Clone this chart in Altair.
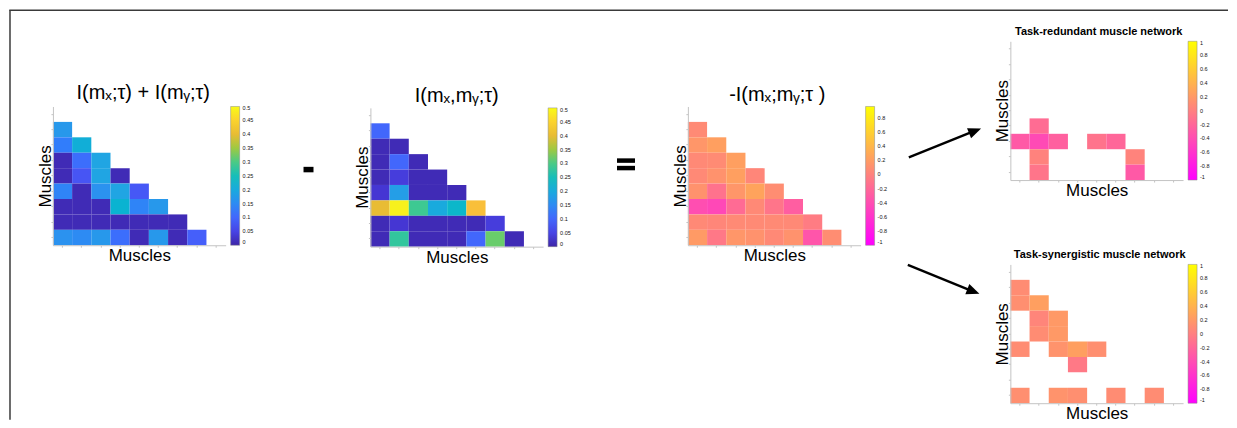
import altair as alt
import pandas as pd

FONT = "Liberation Sans, Arial, DejaVu Sans"

# ---------------- data (rows 1..8 of a 9x9 lower-triangular muscle matrix) ----------------
MUSCLE_ROWS = [0, 1, 2, 3, 4, 5, 6, 7, 8]
MUSCLE_COLS = [0, 1, 2, 3, 4, 5, 6, 7, 8]

MI_SUM = [  # I(mx;tau) + I(my;tau)
    [0.17],
    [0.13, 0.21],
    [0.01, 0.11, 0.19],
    [0.01, 0.075, 0.19, 0.01],
    [0.14, 0.01, 0.16, 0.19, 0.08],
    [0.01, 0.01, 0.01, 0.22, 0.14, 0.17],
    [0.01, 0.01, 0.01, 0.01, 0.01, 0.01, 0.01],
    [0.16, 0.15, 0.17, 0.11, 0.01, 0.17, 0.01, 0.09],
]

MI_JOINT = [  # I(mx,my;tau)
    [0.10],
    [0.01, 0.01],
    [0.01, 0.10, 0.01],
    [0.01, 0.04, 0.01, 0.01],
    [0.03, 0.18, 0.01, 0.01, 0.01],
    [0.40, 0.49, 0.29, 0.20, 0.23, 0.42],
    [0.01, 0.03, 0.01, 0.01, 0.01, 0.01, 0.04],
    [0.01, 0.28, 0.01, 0.01, 0.01, 0.10, 0.32, 0.01],
]

CO_INFO = [  # -I(mx;my;tau)
    [0.06],
    [0.15, 0.22],
    [0.05, 0.07, 0.22],
    [0.05, 0.12, 0.22, 0.03],
    [0.12, -0.12, 0.15, 0.25, 0.08],
    [-0.40, -0.45, -0.18, 0.05, -0.10, -0.28],
    [0.05, 0.03, 0.06, 0.06, 0.06, 0.05, -0.05],
    [0.18, -0.08, 0.15, 0.12, 0.05, 0.12, -0.35, 0.08],
]

REDUNDANT = [
    [None],
    [None, None],
    [None, None, None],
    [None, None, None, None],
    [None, -0.15, None, None, None],
    [-0.30, -0.42, -0.25, None, -0.10, -0.20],
    [None, 0.02, None, None, None, None, 0.03],
    [None, -0.08, None, None, None, None, -0.30, None],
]

SYNERGISTIC = [
    [0.10],
    [0.12, 0.25],
    [None, 0.04, 0.20],
    [None, 0.10, 0.20, None],
    [0.10, None, 0.15, 0.25, 0.12],
    [None, None, None, -0.05, None, None],
    [None, None, None, None, None, None, None],
    [0.12, None, 0.15, 0.12, None, 0.10, None, 0.10],
]

TITLES = ["I(mₓ;τ) + I(mᵧ;τ)", "I(mₓ,mᵧ;τ)", "-I(mₓ;mᵧ;τ )",
          "Task-redundant muscle network", "Task-synergistic muscle network"]
AXIS_TITLE = "Muscles"

LEG_MI = [0, 0.05, 0.1, 0.15, 0.2, 0.25, 0.3, 0.35, 0.4, 0.45, 0.5]
LEG_CO = [-1, -0.8, -0.6, -0.4, -0.2, 0, 0.2, 0.4, 0.6, 0.8]
LEG_NET = [-1, -0.8, -0.6, -0.4, -0.2, 0, 0.2, 0.4, 0.6, 0.8, 1]

# parula colormap samples (index in a 64-step map)
PARULA_IDX = [0, 4, 8, 12, 16, 20, 24, 28, 32, 36, 40, 44, 48, 52, 56, 60, 63]
PARULA = ["#3e26a8", "#4537d5", "#484df0", "#4563fc", "#327bfc", "#2b91ef", "#20a5e3",
          "#08b4d0", "#19bfb6", "#37c897", "#64cd6f", "#9dc943", "#d1bf27", "#f8ba3d",
          "#fccf30", "#f5e327", "#f9fb15"]
SPRING = ["#ff00ff", "#ffff00"]

# ---------------- layout constants ----------------
PW, PH = 173, 139
DUMMY = pd.DataFrame({"k": [0]})


def to_df(mat):
    recs = []
    for i, row in enumerate(mat, start=1):
        for j, v in enumerate(row):
            if v is not None:
                recs.append({"row": MUSCLE_ROWS[i], "col": MUSCLE_COLS[j], "value": v})
    return pd.DataFrame(recs)


def axis(**kw):
    return alt.Axis(labels=False, ticks=True, tickSize=2, tickColor="#c4c4c4",
                    domainColor="#c4c4c4", domainWidth=1, grid=False,
                    title=AXIS_TITLE, titleFont=FONT, titleFontSize=17,
                    titleFontWeight="normal", titleColor="#000", titlePadding=0, **kw)


def panel(mat, title, top, tdx, tdy, tsize, tweight, scale, leg_values, xaxis_offset=0):
    df = to_df(mat)
    rect = alt.Chart(df).mark_rect().encode(
        x=alt.X("col:O", scale=alt.Scale(domain=MUSCLE_COLS),
                axis=axis(orient="bottom", offset=xaxis_offset)),
        y=alt.Y("row:O", scale=alt.Scale(domain=MUSCLE_ROWS, range=[top, top + PH]),
                axis=axis(orient="left", titleBaseline="alphabetic")),
        color=alt.Color("value:Q", scale=scale, legend=alt.Legend(
            title=None, orient="none", legendX=PW + 5, legendY=top,
            direction="vertical", padding=0,
            gradientLength=PH, gradientThickness=9, gradientStrokeColor="#888",
            gradientStrokeWidth=0.5, values=leg_values, labelOverlap=False,
            labelExpr="replace(format(datum.value, '.2~f'), '\u2212', '-')",
            labelFont=FONT, labelFontSize=5.5, labelColor="#111", labelOffset=3,
            labelBaseline="middle")),
    )
    ttl = alt.Chart(DUMMY).mark_text(
        text=title, font=FONT, fontSize=tsize, fontWeight=tweight, color="#000",
        align="center", baseline="alphabetic",
    ).encode(x=alt.value(PW / 2 + tdx), y=alt.value(top + tdy))
    return [rect, ttl]


def indep(c):
    return c.resolve_scale(color="independent", x="independent", y="independent")


mi_scale = alt.Scale(domain=[i / 63 * 0.5 for i in PARULA_IDX], range=PARULA, interpolate="rgb")
co_scale = alt.Scale(domain=[-1, 0.96], range=SPRING, interpolate="rgb")
net_scale = alt.Scale(domain=[-1, 1], range=SPRING, interpolate="rgb")

T1, T2, T3, T4, T5 = 98.3, 99.7, 98.3, 33.0, 256.5

p1 = alt.layer(*panel(MI_SUM, TITLES[0], T1, 4, -7, 20, "normal", mi_scale, LEG_MI)
               ).properties(width=PW, height=T1 + PH)
p2 = alt.layer(*panel(MI_JOINT, TITLES[1], T2, 0, -5.5, 20, "normal", mi_scale, LEG_MI)
               ).properties(width=PW, height=T2 + PH)
p3 = alt.layer(*panel(CO_INFO, TITLES[2], T3, 3, -5.5, 20, "normal", co_scale, LEG_CO)
               ).properties(width=PW, height=T3 + PH)
p45 = indep(alt.layer(
    *panel(REDUNDANT, TITLES[3], T4, 2, -6, 11, "bold", net_scale, LEG_NET,
           xaxis_offset=-(T5 - T4)),
    *panel(SYNERGISTIC, TITLES[4], T5, 3, -6, 11, "bold", net_scale, LEG_NET),
)).properties(width=PW, height=T5 + PH)

# frame lines of the figure (annotation)
frame = alt.layer(
    alt.Chart(DUMMY).mark_rule(color="#3a3a3a", strokeWidth=1.5).encode(
        x=alt.value(0.25), x2=alt.value(1221), y=alt.value(2)),
    alt.Chart(DUMMY).mark_rule(color="#3a3a3a", strokeWidth=1.5).encode(
        x=alt.value(1), y=alt.value(2), y2=alt.value(412)),
).properties(width=44, height=1)

# operator signs and arrows (annotations)
minus = alt.Chart(DUMMY).mark_rule(color="#000", strokeWidth=5.5).encode(
    x=alt.value(78), x2=alt.value(88), y=alt.value(161.5)).properties(width=145, height=1)

equals = alt.layer(
    alt.Chart(DUMMY).mark_rule(color="#000", strokeWidth=4.5).encode(
        x=alt.value(74), x2=alt.value(92), y=alt.value(152.5)),
    alt.Chart(DUMMY).mark_rule(color="#000", strokeWidth=4.5).encode(
        x=alt.value(74), x2=alt.value(92), y=alt.value(160)),
).properties(width=145, height=1)

HEAD = "M0,0L-1,-0.42L-1,0.42Z"
arrows = alt.layer(
    alt.Chart(DUMMY).mark_rule(color="#000", strokeWidth=2.4).encode(
        x=alt.value(48.3), y=alt.value(149.3), x2=alt.value(112.3), y2=alt.value(123.6)),
    alt.Chart(DUMMY).mark_point(shape=HEAD, size=676, filled=True, color="#000",
                                opacity=1, angle=338.2).encode(
        x=alt.value(120.7), y=alt.value(120.3)),
    alt.Chart(DUMMY).mark_rule(color="#000", strokeWidth=2.4).encode(
        x=alt.value(47.3), y=alt.value(257), x2=alt.value(110.6), y2=alt.value(282.7)),
    alt.Chart(DUMMY).mark_point(shape=HEAD, size=676, filled=True, color="#000",
                                opacity=1, angle=21.6).encode(
        x=alt.value(119), y=alt.value(286)),
).properties(width=150, height=1)

chart = indep(alt.hconcat(frame, p1, minus, p2, equals, p3, arrows, p45,
                          spacing=0, bounds="flush", padding=0)
              ).configure_view(stroke="transparent", strokeOpacity=0)

chart.save("out.html", embed_options={"renderer": "svg", "actions": False})
